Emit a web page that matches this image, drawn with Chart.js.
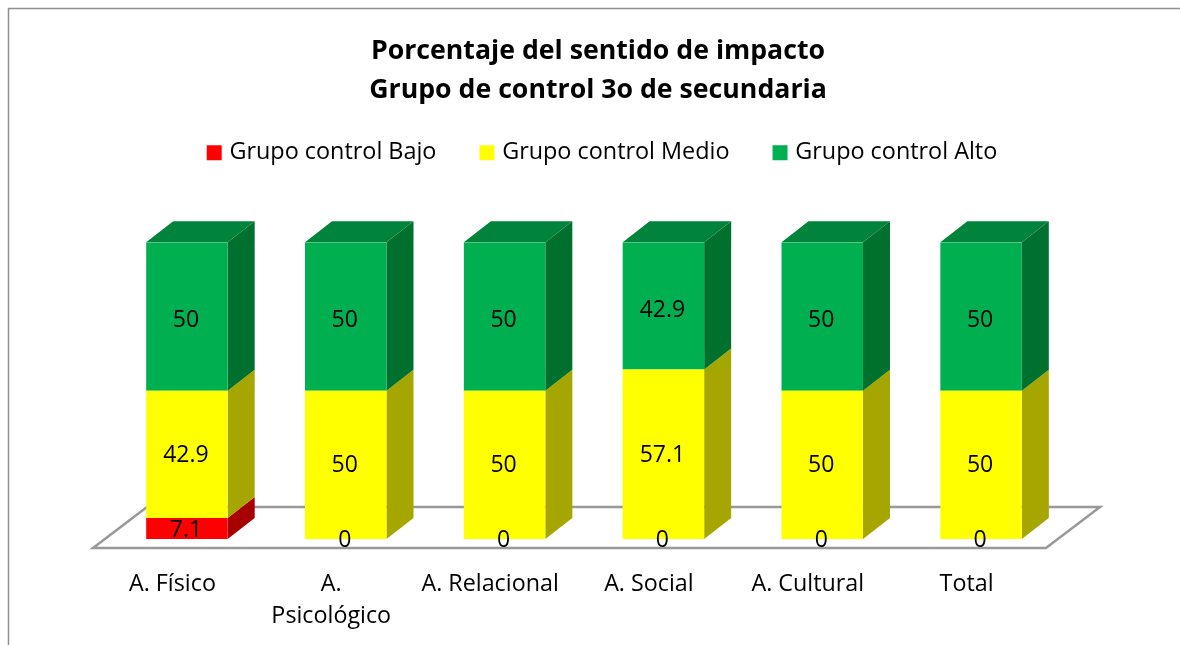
<!DOCTYPE html>
<html><head><meta charset="utf-8">
<style>html,body{margin:0;padding:0;background:#fff;overflow:hidden}canvas{display:block}</style>
<script src="https://cdn.jsdelivr.net/npm/chart.js@4"></script>
</head><body><canvas id="c" width="1180" height="645"></canvas>
<script>
const categories = ['A. Físico', ['A.', 'Psicológico'], 'A. Relacional', 'A. Social', 'A. Cultural', 'Total'];
const bajo = [7.1, 0, 0, 0, 0, 0];
const medio = [42.9, 50, 50, 57.1, 50, 50];
const alto = [50, 50, 50, 42.9, 50, 50];
const titleLines = ['Porcentaje del sentido de impacto', 'Grupo de control 3o de secundaria'];
const FONT = '"Open Sans"';
const shift = {x: 14.5, y: -9};
const depth = {x: 27, y: 21};
const floorDepth = {x: 54, y: 41};
const sideColors = ['#A60000', '#A6A600', '#00702F'];
const topColor = '#00833A';
const labelDy = [2, 1, 4];

const frame = {
  id: 'frame',
  beforeDraw(chart) {
    const c = chart.ctx;
    c.save();
    c.strokeStyle = '#8f8f8f'; c.lineWidth = 1.5;
    c.beginPath(); c.moveTo(8.5, 645); c.lineTo(8.5, 8.5); c.lineTo(1180, 8.5); c.stroke();
    c.restore();
  },
  afterLayout(chart) { chart.legend.left += 6; chart.legend.right += 6; }
};

const cube = {
  id: 'cube',
  beforeDatasetsDraw(chart) {
    const c = chart.ctx, xs = chart.scales.x, y0 = chart.scales.y.getPixelForValue(0);
    c.save();
    c.strokeStyle = '#999999'; c.lineWidth = 2.5; c.lineJoin = 'miter';
    c.beginPath();
    c.moveTo(xs.left, y0); c.lineTo(xs.right, y0);
    c.lineTo(xs.right + floorDepth.x, y0 - floorDepth.y);
    c.lineTo(xs.left + floorDepth.x, y0 - floorDepth.y);
    c.closePath(); c.stroke();
    c.translate(shift.x, shift.y);
    chart.data.datasets.forEach((ds, i) => {
      chart.getDatasetMeta(i).data.forEach(b => {
        if (b.base - b.y < 0.5) return;
        const r = b.x + b.width / 2, l = b.x - b.width / 2;
        c.fillStyle = sideColors[i];
        c.beginPath();
        c.moveTo(r, b.y); c.lineTo(r + depth.x, b.y - depth.y);
        c.lineTo(r + depth.x, b.base - depth.y); c.lineTo(r, b.base);
        c.closePath(); c.fill();
        if (i === 2) {
          c.fillStyle = topColor;
          c.beginPath();
          c.moveTo(l, b.y); c.lineTo(l + depth.x, b.y - depth.y);
          c.lineTo(r + depth.x, b.y - depth.y); c.lineTo(r, b.y);
          c.closePath(); c.fill();
        }
      });
    });
    // kept translated so the library's bars are drawn at the front face
  },
  afterDatasetsDraw(chart) {
    const c = chart.ctx;
    c.fillStyle = '#000';
    c.font = '23px ' + FONT;
    c.textAlign = 'center'; c.textBaseline = 'middle';
    chart.data.datasets.forEach((ds, i) => {
      chart.getDatasetMeta(i).data.forEach((b, j) => {
        const dy = ds.data[j] === 0 ? 1 : labelDy[i];
        c.fillText(String(ds.data[j]), b.x - 1, (b.y + b.base) / 2 + dy);
      });
    });
    c.restore();
  }
};

new Chart(document.getElementById('c'), {
  type: 'bar',
  data: {
    labels: categories,
    datasets: [
      {label: 'Grupo control Bajo', data: bajo, backgroundColor: '#FF0000'},
      {label: 'Grupo control Medio', data: medio, backgroundColor: '#FFFF00'},
      {label: 'Grupo control Alto', data: alto, backgroundColor: '#00B050'}
    ]
  },
  plugins: [frame, cube],
  options: {
    responsive: false,
    animation: false,
    layout: {padding: {left: 16, right: 0, top: 0, bottom: 0}},
    datasets: {bar: {categoryPercentage: 1, barPercentage: 0.513}},
    plugins: {
      tooltip: {enabled: false},
      title: {
        display: true, text: titleLines, color: '#000',
        font: {family: FONT, size: 26.7, weight: 'bold', lineHeight: 1.46},
        padding: {top: 32, bottom: -16}
      },
      legend: {
        display: true, position: 'top',
        labels: {
          color: '#000', font: {family: FONT, size: 23.4},
          boxWidth: 7, boxHeight: 7, padding: 47,
          generateLabels(chart) {
            return Chart.defaults.plugins.legend.labels.generateLabels(chart).map(it => {
              it.lineWidth = 8; it.strokeStyle = it.fillStyle; return it;
            });
          }
        }
      }
    },
    scales: {
      x: {
        stacked: true,
        grid: {display: false}, border: {display: false},
        ticks: {color: '#000', font: {family: FONT, size: 23.3, lineHeight: 1.38}, padding: 12, autoSkip: false, maxRotation: 0},
        afterFit(s) { s.height = 97; }
      },
      xTop: {
        axis: 'x', position: 'top', display: true,
        grid: {display: false}, border: {display: false}, ticks: {display: false},
        afterFit(s) { s.height = 77; }
      },
      y: {
        stacked: true, min: 0, max: 100,
        grid: {display: false}, border: {display: false}, ticks: {display: false},
        afterFit(s) { s.width = 77; }
      },
      yRight: {
        axis: 'y', position: 'right', display: true,
        grid: {display: false}, border: {display: false}, ticks: {display: false},
        afterFit(s) { s.width = 134; }
      }
    }
  }
});
</script></body></html>
